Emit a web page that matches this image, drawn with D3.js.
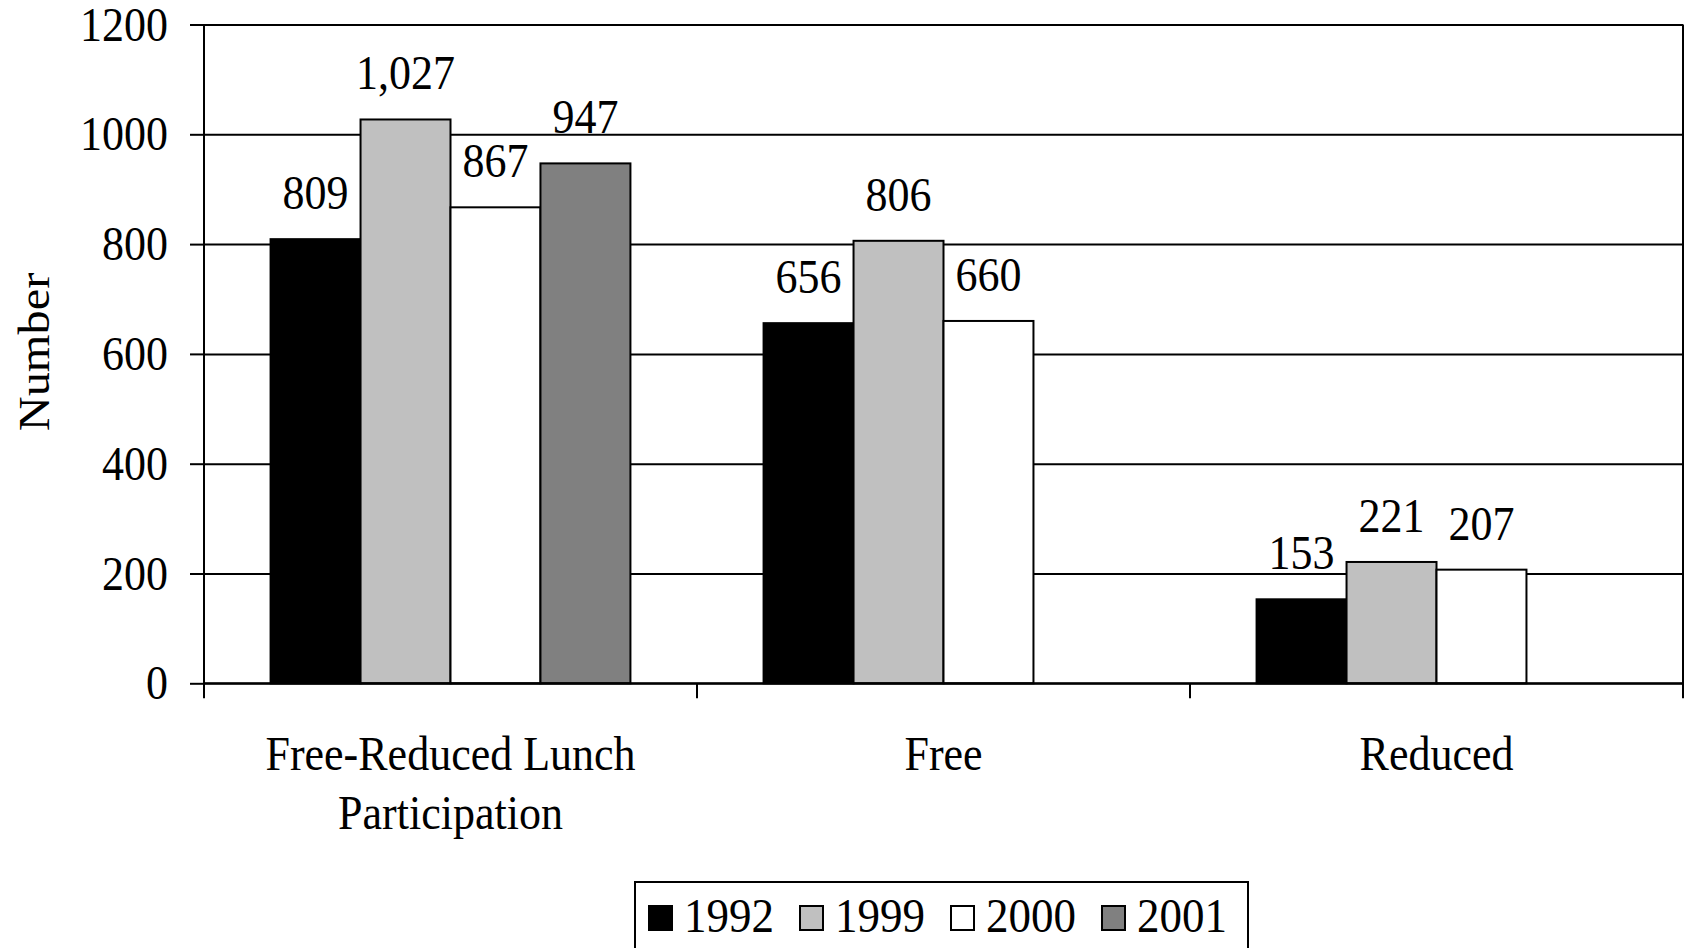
<!DOCTYPE html>
<html>
<head>
<meta charset="utf-8">
<script src="https://cdn.jsdelivr.net/npm/d3@7"></script>
<style>
  body { margin: 0; background: #fff; }
  svg text { font-family: "Liberation Serif", "Times New Roman", serif; fill: #000; }
</style>
</head>
<body>
<div id="chart"></div>
<script>
// chart data
const categories = ["Free-Reduced Lunch Participation", "Free", "Reduced"];
const categoryLines = [["Free-Reduced Lunch", "Participation"], ["Free"], ["Reduced"]];
const years = ["1992", "1999", "2000", "2001"];
const values1992 = [809, 656, 153];
const values1999 = [1027, 806, 221];
const values2000 = [867, 660, 207];
const values2001 = [947, null, null];
const yTicks = [0, 200, 400, 600, 800, 1000, 1200];
const yLabel = "Number";

const yearFills = ["#000000", "#c0c0c0", "#ffffff", "#808080"];
// the source picture is a little stretched vertically, text too
const textStretch = 1.1;

GroupedBarChart = function(_parentElement) {
	this.parentElement = _parentElement;
	this.initVis();
}

GroupedBarChart.prototype.initVis = function() {
	var vis = this;

	vis.margin = { top: 24.5, right: 1, bottom: 264.7, left: 204 };
	vis.width = 1684 - vis.margin.left - vis.margin.right;
	vis.height = 948 - vis.margin.top - vis.margin.bottom;

	vis.svg = d3.select("#" + vis.parentElement).append("svg")
		.attr("width", 1684)
		.attr("height", 948)
		.append("g")
		.attr("transform", "translate(" + vis.margin.left + "," + vis.margin.top + ")");

	vis.x = d3.scaleBand().domain(categories).range([0, vis.width]).padding(0);
	vis.xYear = d3.scaleBand().domain(years).range([0, vis.x.bandwidth()])
		.paddingInner(0).paddingOuter(0.74);
	vis.y = d3.scaleLinear().domain([0, 1200]).range([vis.height, 0]);

	vis.wrangleData();
}

GroupedBarChart.prototype.wrangleData = function() {
	var vis = this;
	const series = [values1992, values1999, values2000, values2001];
	vis.bars = [];
	categories.forEach((c, i) => {
		years.forEach((yr, j) => {
			const v = series[j][i];
			if (v !== null) vis.bars.push({ category: c, year: yr, value: v, fill: yearFills[j] });
		});
	});
	vis.updateVis();
}

GroupedBarChart.prototype.updateVis = function() {
	var vis = this;
	const fmt = d3.format(",");

	// gridlines
	vis.svg.append("g")
		.attr("class", "grid")
		.call(d3.axisLeft(vis.y).tickValues(yTicks).tickSize(-vis.width).tickFormat(""))
		.call(g => g.select(".domain").remove())
		.selectAll("line").attr("stroke", "#000").attr("stroke-width", 2);

	// bars
	vis.svg.selectAll(".bar").data(vis.bars).enter().append("rect")
		.attr("class", "bar")
		.attr("x", d => vis.x(d.category) + vis.xYear(d.year))
		.attr("y", d => vis.y(d.value))
		.attr("width", vis.xYear.bandwidth())
		.attr("height", d => vis.height - vis.y(d.value))
		.attr("fill", d => d.fill)
		.attr("stroke", "#000")
		.attr("stroke-width", 2);

	// value labels
	vis.svg.selectAll(".value").data(vis.bars).enter().append("text")
		.attr("class", "value")
		.attr("text-anchor", "middle")
		.attr("font-size", 44)
		.attr("transform", d => "translate(" + (vis.x(d.category) + vis.xYear(d.year) + vis.xYear.bandwidth() / 2) +
			"," + (vis.y(d.value) - 30) + ") scale(1," + textStretch + ")")
		.text(d => fmt(d.value));

	// y axis
	const yAxis = vis.svg.append("g")
		.attr("class", "axis y-axis")
		.call(d3.axisLeft(vis.y).tickValues(yTicks).tickSize(14).tickPadding(22).tickFormat(d3.format("d")));
	yAxis.select(".domain").attr("d", "M0," + vis.y(1200) + "V" + (vis.height + 15))
		.attr("stroke", "#000").attr("stroke-width", 2);
	yAxis.selectAll("line").attr("stroke", "#000").attr("stroke-width", 2);
	yAxis.selectAll("text")
		.attr("font-size", 44)
		.attr("font-family", "Liberation Serif")
		.attr("transform", "scale(1," + textStretch + ")");

	// x baseline, right border and category ticks
	vis.svg.append("line")
		.attr("x1", 0).attr("x2", vis.width)
		.attr("y1", vis.height).attr("y2", vis.height)
		.attr("stroke", "#000").attr("stroke-width", 2);
	vis.svg.append("line")
		.attr("x1", vis.width).attr("x2", vis.width)
		.attr("y1", vis.y(1200)).attr("y2", vis.height + 15)
		.attr("stroke", "#000").attr("stroke-width", 2);
	vis.svg.selectAll(".xtick").data(categories.slice(1)).enter().append("line")
		.attr("class", "xtick")
		.attr("x1", d => vis.x(d)).attr("x2", d => vis.x(d))
		.attr("y1", vis.height).attr("y2", vis.height + 15)
		.attr("stroke", "#000").attr("stroke-width", 2);

	// category labels
	const catLabel = vis.svg.selectAll(".cat").data(categories).enter().append("text")
		.attr("class", "cat")
		.attr("text-anchor", "middle")
		.attr("font-size", 44)
		.attr("transform", d => "translate(" + (vis.x(d) + vis.x.bandwidth() / 2) + "," + (vis.height + 87) +
			") scale(1," + textStretch + ")");
	catLabel.selectAll("tspan").data((d, i) => categoryLines[i]).enter().append("tspan")
		.attr("x", 0)
		.attr("y", (d, i) => i * 53.5)
		.text(d => d);

	// y label
	vis.svg.append("text")
		.attr("text-anchor", "middle")
		.attr("font-size", 44)
		.attr("transform", "translate(" + (49 - vis.margin.left) + "," + (352 - vis.margin.top) +
			") scale(1," + textStretch + ") rotate(-90)")
		.text(yLabel);

	// legend
	const legend = vis.svg.append("g")
		.attr("transform", "translate(" + (635 - vis.margin.left) + "," + (882 - vis.margin.top) + ")");
	legend.append("rect")
		.attr("x", 0).attr("y", 0).attr("width", 613).attr("height", 120)
		.attr("fill", "#fff").attr("stroke", "#000").attr("stroke-width", 2);
	const item = legend.selectAll(".item").data(years).enter().append("g")
		.attr("class", "item")
		.attr("transform", (d, i) => "translate(" + (14 + i * 151) + ",0)");
	item.append("rect")
		.attr("x", 0).attr("y", 24).attr("width", 23).attr("height", 24)
		.attr("fill", (d, i) => yearFills[i])
		.attr("stroke", "#000").attr("stroke-width", 2);
	item.append("text")
		.attr("font-size", 45)
		.attr("transform", "translate(35,50) scale(1," + textStretch + ")")
		.text(d => d);
}

new GroupedBarChart("chart");
</script>
</body>
</html>
